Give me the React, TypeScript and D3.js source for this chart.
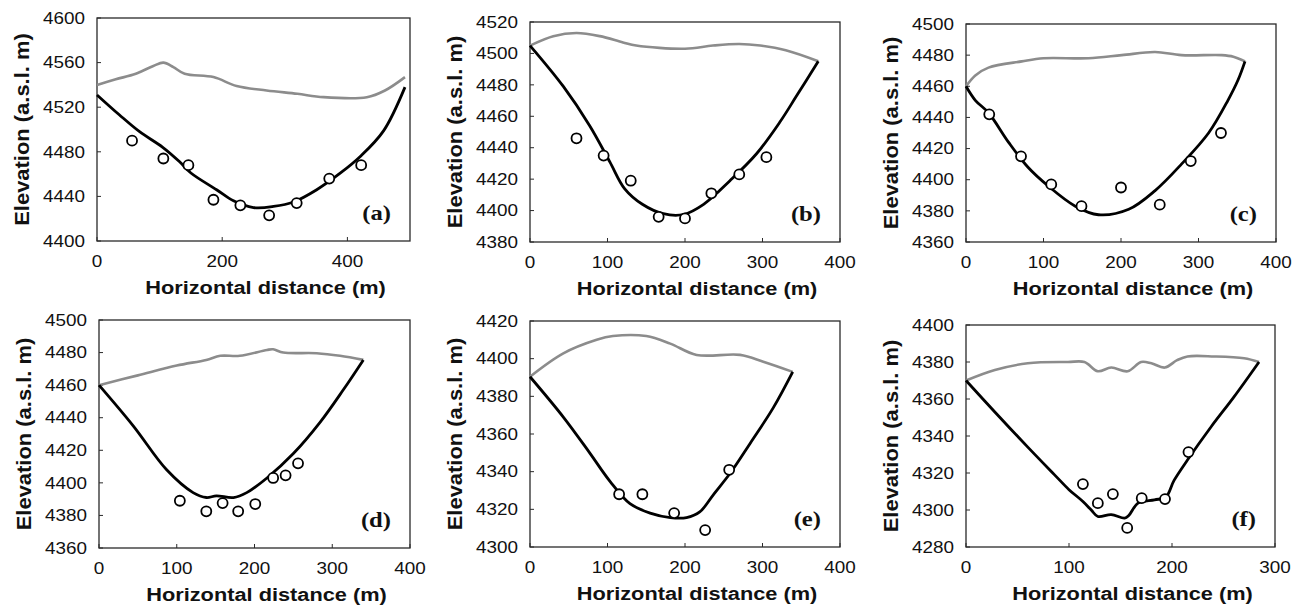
import React from 'react';
import * as d3 from 'd3';

type Pt = [number, number];

// (a)
const surfaceA: Pt[] = [[0, 4540], [30, 4545], [62, 4550], [90, 4557], [106, 4560], [122, 4556], [140, 4550], [186, 4547], [223, 4539], [271, 4535], [320, 4532], [362, 4529], [431, 4529], [460, 4535], [492, 4547]];
const bedA: Pt[] = [[0, 4531], [36, 4513], [68, 4498], [105, 4484], [132, 4471], [150, 4461], [191, 4446], [218, 4436], [250, 4430], [282, 4431], [314, 4435], [351, 4446], [389, 4461], [421, 4476], [458, 4499], [492, 4538]];
const pointsA: Pt[] = [[56, 4490], [106, 4474], [146, 4468], [186, 4437], [229, 4432], [275, 4423], [319, 4434], [371, 4456], [422, 4468]];
const xTicksA = [0, 200, 400];
const yTicksA = [4400, 4440, 4480, 4520, 4560, 4600];

// (b)
const surfaceB: Pt[] = [[0, 4505], [30, 4511], [60, 4513], [90, 4511], [120, 4507], [137, 4505], [200, 4503], [236, 4505], [270, 4506], [297, 4505], [330, 4502], [372, 4495]];
const bedB: Pt[] = [[0, 4505], [43, 4479], [77, 4454], [103, 4431], [122, 4414], [145, 4404], [172, 4398], [198, 4397.5], [224, 4404], [258, 4419], [292, 4436], [322, 4456], [344, 4473], [372, 4495]];
const pointsB: Pt[] = [[60, 4446], [95, 4435], [130, 4419], [166, 4396], [200, 4395], [234, 4411], [270, 4423], [305, 4434]];
const xTicksB = [0, 100, 200, 300, 400];
const yTicksB = [4380, 4400, 4420, 4440, 4460, 4480, 4500, 4520];

// (c)
const surfaceC: Pt[] = [[0, 4460], [12, 4467], [29, 4472], [72, 4476], [100, 4478], [158, 4478], [201, 4480], [244, 4482], [278, 4480], [330, 4480], [345, 4479], [360, 4476]];
const bedC: Pt[] = [[0, 4460], [12, 4451], [29, 4443], [55, 4424], [80, 4408], [106, 4396], [141, 4383], [171, 4377.5], [210, 4381], [244, 4393], [278, 4410], [313, 4430], [338, 4451], [351, 4464], [360, 4476]];
const pointsC: Pt[] = [[30, 4442], [71, 4415], [110, 4397], [149, 4383], [200, 4395], [250, 4384], [290, 4412], [329, 4430]];
const xTicksC = [0, 100, 200, 300, 400];
const yTicksC = [4360, 4380, 4400, 4420, 4440, 4460, 4480, 4500];

// (d)
const surfaceD: Pt[] = [[0, 4460], [50, 4466], [100, 4472], [138, 4475.5], [156, 4478], [181, 4478], [216, 4481.6], [224, 4482], [237, 4480], [280, 4479.6], [310, 4478], [340, 4475.5]];
const bedD: Pt[] = [[0, 4460], [44, 4435], [87, 4408], [121, 4394], [138, 4391], [151, 4392], [173, 4391], [190, 4394], [216, 4403], [250, 4418], [284, 4437], [314, 4457], [340, 4475.5]];
const pointsD: Pt[] = [[104, 4389], [138, 4382.5], [159, 4387.6], [179, 4382.5], [201, 4387], [224, 4403], [240, 4404.6], [256, 4412]];
const xTicksD = [0, 100, 200, 300, 400];
const yTicksD = [4360, 4380, 4400, 4420, 4440, 4460, 4480, 4500];

// (e)
const surfaceE: Pt[] = [[0, 4390.4], [43, 4402.8], [86, 4410], [107, 4412], [150, 4412], [181, 4408], [215, 4402], [271, 4402], [301, 4398.4], [339, 4393]];
const bedE: Pt[] = [[0, 4390.4], [43, 4369], [77, 4350], [103, 4335], [129, 4323], [155, 4318], [181, 4315.6], [202, 4315.6], [219, 4318.6], [237, 4328], [258, 4339], [284, 4355], [314, 4374], [339, 4393]];
const pointsE: Pt[] = [[115, 4328], [145, 4328], [186, 4318], [226, 4309], [257, 4341]];
const xTicksE = [0, 100, 200, 300, 400];
const yTicksE = [4300, 4320, 4340, 4360, 4380, 4400, 4420];

// (f)
const surfaceF: Pt[] = [[0, 4370], [28, 4375.7], [60, 4379.3], [99, 4380], [115, 4380], [128, 4375], [141, 4377], [157, 4375], [170, 4380], [180, 4379.3], [193, 4377], [205, 4381], [215, 4383], [241, 4383], [270, 4382], [284.5, 4380]];
const bedF: Pt[] = [[0, 4370], [28, 4353], [60, 4334], [86, 4319], [100, 4311], [113.5, 4304.6], [121.6, 4300], [128, 4296.5], [141, 4297.5], [154, 4295.6], [158, 4297], [167, 4303.7], [183, 4305.5], [194, 4307], [202, 4316], [215, 4327], [238, 4345], [260, 4361], [284.5, 4380]];
const pointsF: Pt[] = [[113.5, 4314], [128, 4303.7], [142.6, 4308.6], [156.5, 4290.3], [170.6, 4306.4], [193.2, 4305.9], [216, 4331.3]];
const xTicksF = [0, 100, 200, 300];
const yTicksF = [4280, 4300, 4320, 4340, 4360, 4380, 4400];

const panels = [
  { label: '(a)', surface: surfaceA, bed: bedA, points: pointsA, xTicks: xTicksA, yTicks: yTicksA, xMax: 500, box: { left: 97, right: 410, top: 18, bottom: 241 } },
  { label: '(b)', surface: surfaceB, bed: bedB, points: pointsB, xTicks: xTicksB, yTicks: yTicksB, xMax: 400, box: { left: 530, right: 840, top: 22, bottom: 242 } },
  { label: '(c)', surface: surfaceC, bed: bedC, points: pointsC, xTicks: xTicksC, yTicks: yTicksC, xMax: 400, box: { left: 966, right: 1276, top: 24, bottom: 242 } },
  { label: '(d)', surface: surfaceD, bed: bedD, points: pointsD, xTicks: xTicksD, yTicks: yTicksD, xMax: 400, box: { left: 99, right: 410, top: 320, bottom: 548 } },
  { label: '(e)', surface: surfaceE, bed: bedE, points: pointsE, xTicks: xTicksE, yTicks: yTicksE, xMax: 400, box: { left: 530, right: 840, top: 321, bottom: 547 } },
  { label: '(f)', surface: surfaceF, bed: bedF, points: pointsF, xTicks: xTicksF, yTicks: yTicksF, xMax: 300, box: { left: 966, right: 1275, top: 325, bottom: 547 } },
];

const sans = "'Liberation Sans', Arial, sans-serif";
const serif = "'Liberation Serif', 'Times New Roman', serif";

const Panel = ({ p }: { p: (typeof panels)[number] }) => {
  const { left, right, top, bottom } = p.box;
  const yMin = p.yTicks[0];
  const yMax = p.yTicks[p.yTicks.length - 1];
  const x = d3.scaleLinear().domain([0, p.xMax]).range([left, right]);
  const y = d3.scaleLinear().domain([yMin, yMax]).range([bottom, top]);
  const line = d3.line<Pt>().x(d => x(d[0])).y(d => y(d[1])).curve(d3.curveCatmullRom.alpha(0.5));
  const cx = (left + right) / 2;
  const cy = (top + bottom) / 2;

  return (
    <g>
      <rect x={left} y={top} width={right - left} height={bottom - top} fill="none" stroke="#2a2a2a" strokeWidth={1.3} />
      {p.xTicks.map(t => (
        <g key={'x' + t}>
          <line x1={x(t)} x2={x(t)} y1={bottom} y2={bottom - 4} stroke="#2a2a2a" strokeWidth={1} />
          <g transform={`translate(${x(t)},${bottom + 26}) scale(1.18,1)`}>
            <text textAnchor="middle" fontFamily={sans} fontSize={16} fill="#111">{t}</text>
          </g>
        </g>
      ))}
      {p.yTicks.map(t => (
        <g key={'y' + t}>
          <line x1={left} x2={left + 4} y1={y(t)} y2={y(t)} stroke="#2a2a2a" strokeWidth={1} />
          <g transform={`translate(${left - 12},${y(t)}) scale(1.18,1)`}>
            <text textAnchor="end" dy="0.36em" fontFamily={sans} fontSize={16} fill="#111">{t}</text>
          </g>
        </g>
      ))}
      <path d={line(p.surface) ?? ''} fill="none" stroke="#8c8c8c" strokeWidth={2.6} />
      <path d={line(p.bed) ?? ''} fill="none" stroke="#000" strokeWidth={2.8} />
      {p.points.map((d, i) => (
        <circle key={i} cx={x(d[0])} cy={y(d[1])} r={5} fill="#fff" stroke="#000" strokeWidth={1.8} />
      ))}
      <g transform={`translate(${right - 19},${bottom - 21}) scale(1.12,1)`}>
        <text textAnchor="end" fontFamily={serif} fontWeight="bold" fontSize={22} fill="#111">{p.label}</text>
      </g>
      <g transform={`translate(${cx + 12},${bottom + 53}) scale(1.21,1)`}>
        <text textAnchor="middle" fontFamily={sans} fontWeight="bold" fontSize={18} fill="#111">Horizontal distance (m)</text>
      </g>
      <g transform={`translate(${left - 75},${cy}) rotate(-90) scale(1.07,1)`}>
        <text textAnchor="middle" dy="0.35em" fontFamily={sans} fontWeight="bold" fontSize={20.5} fill="#111">Elevation (a.s.l. m)</text>
      </g>
    </g>
  );
};

export default function App() {
  return (
    <svg width={1302} height={605} style={{ position: 'absolute', left: 0, top: 0, background: '#fff' }}>
      {panels.map(p => <Panel key={p.label} p={p} />)}
    </svg>
  );
}
